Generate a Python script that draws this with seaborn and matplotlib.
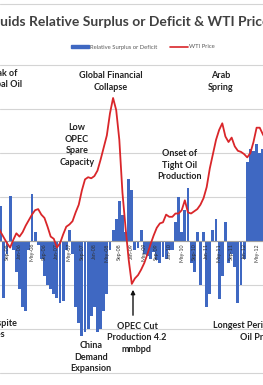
import numpy as np
import pandas as pd
import matplotlib
matplotlib.use("Agg")
import matplotlib.pyplot as plt
import seaborn as sns
from matplotlib.patches import Patch
from matplotlib.lines import Line2D

sns.set_style("white")
plt.rcParams['font.family'] = ['Lato', 'DejaVu Sans']

W, H = 263, 385

# month index, 0 = Sep-05 (chart is cropped on both sides)
months = list(range(-3, 84))

# relative surplus (+) / deficit (-), mb/d
surplus = [0.3, 0.4, -0.65, -0.15, 0.51, -0.1, -0.35, -0.55, -0.75, -0.8,
           -0.1, 0.53, 0.1, -0.05, -0.2, -0.4, -0.5, -0.55, -0.6, -0.65,
           -0.7, -0.68, -0.1, 0.12, -0.15, -0.75, -0.93, -1.08, -1.03, -1.0,
           -0.85, -0.75, -1.03, -1.0, -0.8, -0.6, -0.1, 0.13, 0.25, 0.45,
           0.3, 0.1, 0.7, 0.58, -0.1, -0.08, 0.12, -0.15, -0.17, -0.2,
           -0.13, -0.22, -0.25, -0.18, -0.2, -0.1, -0.1, 0.22, 0.5, 0.1,
           0.35, 0.6, -0.25, -0.35, 0.1, -0.5, 0.1, -0.75, -0.6, 0.12,
           0.25, -0.66, -0.4, 0.22, -0.25, -0.15, -0.3, -0.7, -0.5, -0.2,
           0.9, 1.05, 1.02, 1.1, 1.0, 1.05, 1.0]

# WTI price, $/bbl
wti = [67, 64, 61.5, 59, 57, 60.5, 63.5, 62, 64, 67,
       69.5, 72, 74, 74.5, 72, 70.5, 66.5, 62, 61, 57,
       59, 63, 66.5, 67.5, 69, 73, 76.5, 83, 88, 89,
       88.5, 89.5, 92, 97, 102.5, 108, 118, 125, 119.5, 106,
       82, 66, 51.5, 40.5, 43, 44.5, 47, 50, 54, 58.5,
       62.5, 66, 68, 68.5, 72, 71, 71, 72.5, 72.5, 74,
       78.5, 73, 72.5, 73.5, 74.5, 76.5, 79.5, 84.5, 93, 99.5,
       106, 110.5, 113.5, 107.5, 105, 107, 103, 101, 100.5, 99.5,
       98, 100, 105, 111.5, 111.5, 108.5, 106]

tick_idx = list(range(0, 81, 4))
tick_labels = ['Sep-05', 'Jan-06', 'May-06', 'Sep-06', 'Jan-07', 'May-07', 'Sep-07',
               'Jan-08', 'May-08', 'Sep-08', 'Jan-09', 'May-09', 'Sep-09', 'Jan-10',
               'May-10', 'Sep-10', 'Jan-11', 'May-11', 'Sep-11', 'Jan-12', 'May-12']

df = pd.DataFrame({'month': months, 'surplus': surplus, 'wti': wti})

BLUE = '#3f68c2'
RED = '#d9262a'

# layout in pixels
AX_TOP, AX_BOT = 60, 378
ZERO_PX, BAR_PX = 241, 88      # bars: 88 px per mb/d
PRICE0_PX, PRICE_PX = 373, 2.2  # price: 2.2 px per $
X0_PX, MONTH_PX = 7, 3.12


def px(x, y):
    return x / W, 1 - y / H


fig = plt.figure(figsize=(W / 100, H / 100), dpi=100)
ax = fig.add_axes([0, 1 - AX_BOT / H, 1, (AX_BOT - AX_TOP) / H])

sns.barplot(data=df, x='month', y='surplus', native_scale=True, color=BLUE,
            saturation=1, width=0.92, errorbar=None, linewidth=0, ax=ax)

ax2 = ax.twinx()
sns.lineplot(data=df, x='month', y='wti', color=RED, lw=1.3, ax=ax2)
ax2.set_ylim((PRICE0_PX - AX_BOT) / PRICE_PX, (PRICE0_PX - AX_TOP) / PRICE_PX)
ax2.set_axis_off()

ax.set_xlim(-X0_PX / MONTH_PX, (W - X0_PX) / MONTH_PX)
ax.set_ylim(-(AX_BOT - ZERO_PX) / BAR_PX, (ZERO_PX - AX_TOP) / BAR_PX)
ax.set_yticks(np.arange(-1.5, 2.01, 0.5))
ax.yaxis.grid(True, color='#d4d4d4', lw=0.8)
ax.tick_params(axis='y', left=False, labelleft=False)
ax.set_xticks(tick_idx, tick_labels)
ax.tick_params(axis='x', length=0, pad=1.5, labelrotation=90, labelsize=3.8,
               labelcolor='#333333')
for s in ['top', 'left', 'right']:
    ax.spines[s].set_visible(False)
ax.spines['bottom'].set_position(('data', 0))
ax.spines['bottom'].set_color('#a0a0a0')
ax.spines['bottom'].set_linewidth(0.8)
ax.set_xlabel('')
ax.set_ylabel('')
ax.set_axisbelow(True)
ax.xaxis.set_zorder(2.5)

# title, cropped at both sides
title = "Global Liquids Relative Surplus or Deficit & WTI Price"
renderer = fig.canvas.get_renderer()
probe = fig.text(0, 0, "Global Liq", fontsize=10, fontweight='bold')
shift = probe.get_window_extent(renderer).width
probe.remove()
fig.text(-shift / W, 1 - 22 / H, title, fontsize=10, fontweight='bold',
         color='#404040', ha='left', va='center')

fig.add_artist(Line2D([0, 1], [1 - 4 / H] * 2, transform=fig.transFigure,
                      color='#d4d4d4', lw=0.8))

handles = [Patch(color=BLUE), Line2D([], [], color=RED, lw=1.2)]
fig.legend(handles, ['Relative Surplus or Deficit', 'WTI Price'], loc='center',
           bbox_to_anchor=px(143, 47), ncol=2, frameon=False, fontsize=4.2,
           handlelength=3.0, handleheight=0.55, handletextpad=0.2,
           columnspacing=2.2, labelcolor='#595959')

note = dict(fontsize=6.5, fontweight='bold', color='#222222', linespacing=1.35,
            va='center')
fig.text(*px(22, 79), "Peak of\nGlobal Oil", ha='right', multialignment='center', **note)
fig.text(*px(111, 81.5), "Global Financial\nCollapse", ha='center', **note)
fig.text(*px(221, 81.5), "Arab\nSpring", ha='center', **note)
fig.text(*px(77, 145), "Low\nOPEC\nSpare\nCapacity", ha='center', **note)
fig.text(*px(180, 165), "Onset of\nTight Oil\nProduction", ha='center', **note)
fig.text(*px(17, 329), "Plateau Despite\nOil Prices", ha='right', multialignment='center', **note)
fig.text(*px(91, 357), "China\nDemand\nExpansion", ha='center', **note)
fig.text(*px(137, 338), "OPEC Cut\nProduction 4.2\nmmbpd", ha='center', **note)
fig.text(*px(213, 331.5), "Longest Period of High\nOil Prices", ha='left',
         multialignment='center', **note)

fig.add_artist(plt.Annotation('', xy=px(133, 287), xytext=px(133, 318),
                              xycoords='figure fraction', textcoords='figure fraction',
                              arrowprops=dict(arrowstyle='-|>', color='#111111', lw=1.0,
                                              mutation_scale=6)))

fig.savefig('out.png', dpi=100)
